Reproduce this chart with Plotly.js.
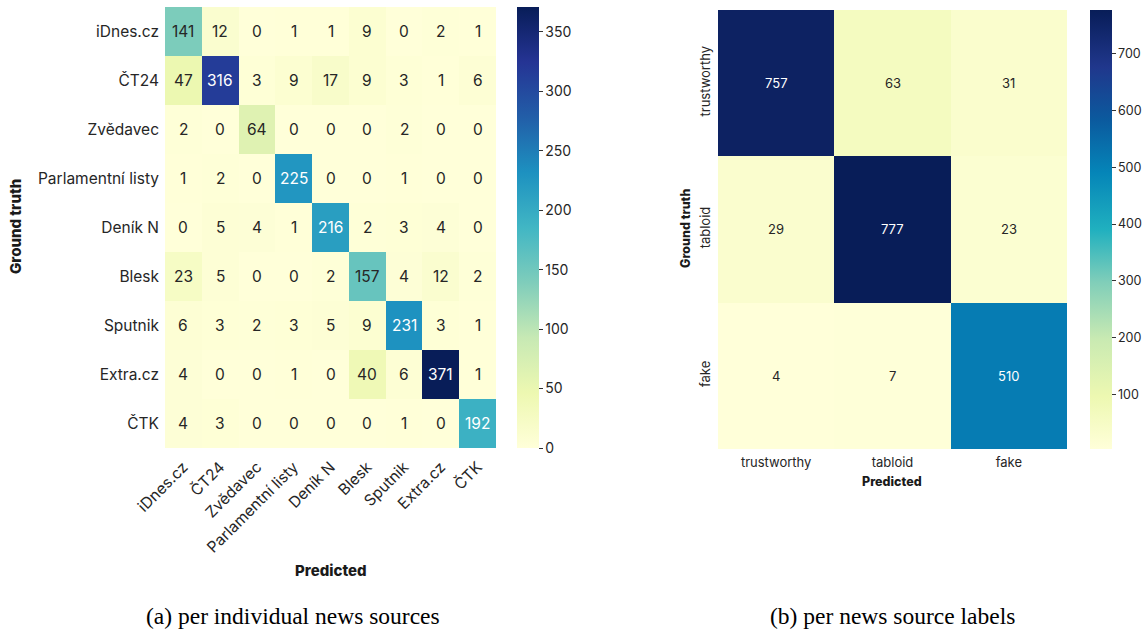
<!DOCTYPE html>
<html><head><meta charset="utf-8">
<script src="https://cdn.plot.ly/plotly-3.0.1.min.js"></script>
<style>body{margin:0;background:#fff}#c{width:1144px;height:630px}</style>
</head><body><div id="c"></div><script>
// ---- data ----
const sources = ["iDnes.cz","ČT24","Zvědavec","Parlamentní listy","Deník N","Blesk","Sputnik","Extra.cz","ČTK"];
const sourceMatrix = [
  [141, 12,  0,   1,   1,   9,   0,   2,   1],
  [ 47,316,  3,   9,  17,   9,   3,   1,   6],
  [  2,  0, 64,   0,   0,   0,   2,   0,   0],
  [  1,  2,  0, 225,   0,   0,   1,   0,   0],
  [  0,  5,  4,   1, 216,   2,   3,   4,   0],
  [ 23,  5,  0,   0,   2, 157,   4,  12,   2],
  [  6,  3,  2,   3,   5,   9, 231,   3,   1],
  [  4,  0,  0,   1,   0,  40,   6, 371,   1],
  [  4,  3,  0,   0,   0,   0,   1,   0, 192]
];
const labels = ["trustworthy","tabloid","fake"];
const labelMatrix = [
  [757, 63, 31],
  [ 29,777, 23],
  [  4,  7,510]
];
const leftTicks = [0,50,100,150,200,250,300,350];
const rightTicks = [100,200,300,400,500,600,700];
const captionA = "(a) per individual news sources";
const captionB = "(b) per news source labels";

// ---- styling ----
const W = 1144, H = 630;
const px = x => x / W, py = y => 1 - y / H;
const FONT = "Inter, 'Open Sans', sans-serif";
const DARK = "#262626";
const ylgnbu = [
  [0.000,"#ffffd9"],[0.125,"#edf8b1"],[0.250,"#c7e9b4"],[0.375,"#7fcdbb"],
  [0.500,"#41b6c4"],[0.625,"#1d91c0"],[0.750,"#225ea8"],[0.875,"#253494"],[1.000,"#081d58"]
];
const ylgnbuVivid = [
  [0.000,"#ffffd9"],[0.120,"#edf8b1"],[0.250,"#c9eab2"],[0.380,"#80ceb9"],
  [0.500,"#20b0bf"],[0.630,"#0585b8"],[0.750,"#0b5a9e"],[0.870,"#20378c"],[1.000,"#081d58"]
];
const flat = m => m.reduce((a, r) => a.concat(r), []);
const lMin = Math.min(...flat(sourceMatrix)), lMax = Math.max(...flat(sourceMatrix));
const rMin = Math.min(...flat(labelMatrix)), rMax = Math.max(...flat(labelMatrix));

const L = {x0:165, x1:496, y0:7, y1:448};
const R = {x0:718, x1:1067, y0:10, y1:449};

const traces = [
  {
    type: "heatmap", z: sourceMatrix, x: sources, y: sources,
    colorscale: ylgnbu, zmin: lMin, zmax: lMax, xaxis: "x", yaxis: "y",
    colorbar: {
      x: px(517), xanchor: "left", xpad: 0, ypad: 0, thickness: 22,
      y: py((L.y0 + L.y1) / 2), yanchor: "middle", lenmode: "pixels", len: L.y1 - L.y0,
      outlinewidth: 0, tickvals: leftTicks, ticks: "outside", ticklen: 4, tickcolor: "#333",
      tickfont: {family: FONT, size: 14, color: DARK}
    }
  },
  {
    type: "heatmap", z: labelMatrix, x: labels, y: labels,
    colorscale: ylgnbuVivid, zmin: rMin, zmax: rMax, xaxis: "x2", yaxis: "y2",
    colorbar: {
      x: px(1090), xanchor: "left", xpad: 0, ypad: 0, thickness: 22,
      y: py((R.y0 + R.y1) / 2), yanchor: "middle", lenmode: "pixels", len: R.y1 - R.y0,
      outlinewidth: 0, tickvals: rightTicks, ticks: "outside", ticklen: 4, tickcolor: "#333",
      tickfont: {family: FONT, size: 12.5, color: DARK}
    }
  }
];

const annotations = [];
sourceMatrix.forEach((row, i) => row.forEach((v, j) => {
  annotations.push({x: sources[j], y: sources[i], xref: "x", yref: "y", text: String(v),
    showarrow: false, font: {family: FONT, size: 15.5, color: (v - lMin) / (lMax - lMin) > 0.45 ? "#ffffff" : DARK}});
}));
labelMatrix.forEach((row, i) => row.forEach((v, j) => {
  annotations.push({x: labels[j], y: labels[i], xref: "x2", yref: "y2", text: String(v),
    showarrow: false, font: {family: FONT, size: 13, color: (v - rMin) / (rMax - rMin) > 0.45 ? "#ffffff" : DARK}});
}));
const titleFont = s => ({family: FONT, size: s, color: "#1a1a1a", weight: 800});
const paperText = (text, x, y, font, angle) => ({text, xref: "paper", yref: "paper", x: px(x), y: py(y),
  xanchor: "center", yanchor: "middle", textangle: angle || 0, showarrow: false, font});
const serif = {family: "'Liberation Serif', 'Times New Roman', serif", size: 23.5, color: "#000"};
annotations.push(
  paperText("Ground truth", 15, 227, titleFont(15), -90),
  paperText("Predicted", 331, 570, titleFont(15)),
  paperText("Ground truth", 685, 229, titleFont(12.5), -90),
  paperText("Predicted", 892, 482, titleFont(12.5)),
  paperText(captionA, 293, 616, serif),
  paperText(captionB, 892, 616, serif)
);

const layout = {
  width: W, height: H, margin: {l:0, r:0, t:0, b:0},
  paper_bgcolor: "#fff", plot_bgcolor: "#fff", showlegend: false,
  font: {family: FONT, color: DARK},
  xaxis: {domain: [px(L.x0), px(L.x1)], anchor: "y", type: "category", tickangle: -45,
    showgrid: false, zeroline: false, ticks: "", ticklabelstandoff: 6,
    tickfont: {family: FONT, size: 15.5, color: DARK}},
  yaxis: {domain: [py(L.y1), py(L.y0)], anchor: "x", type: "category", autorange: "reversed",
    showgrid: false, zeroline: false, ticks: "", ticklabelstandoff: 5,
    tickfont: {family: FONT, size: 15.5, color: DARK}},
  xaxis2: {domain: [px(R.x0), px(R.x1)], anchor: "y2", type: "category",
    showgrid: false, zeroline: false, ticks: "", ticklabelstandoff: 4,
    tickfont: {family: FONT, size: 13, color: DARK}},
  yaxis2: {domain: [py(R.y1), py(R.y0)], anchor: "x2", type: "category", autorange: "reversed",
    tickangle: -90, showgrid: false, zeroline: false, ticks: "", ticklabelstandoff: 4,
    tickfont: {family: FONT, size: 13, color: DARK}},
  annotations: annotations
};

Plotly.newPlot("c", traces, layout, {displayModeBar: false, staticPlot: true});
</script></body></html>
